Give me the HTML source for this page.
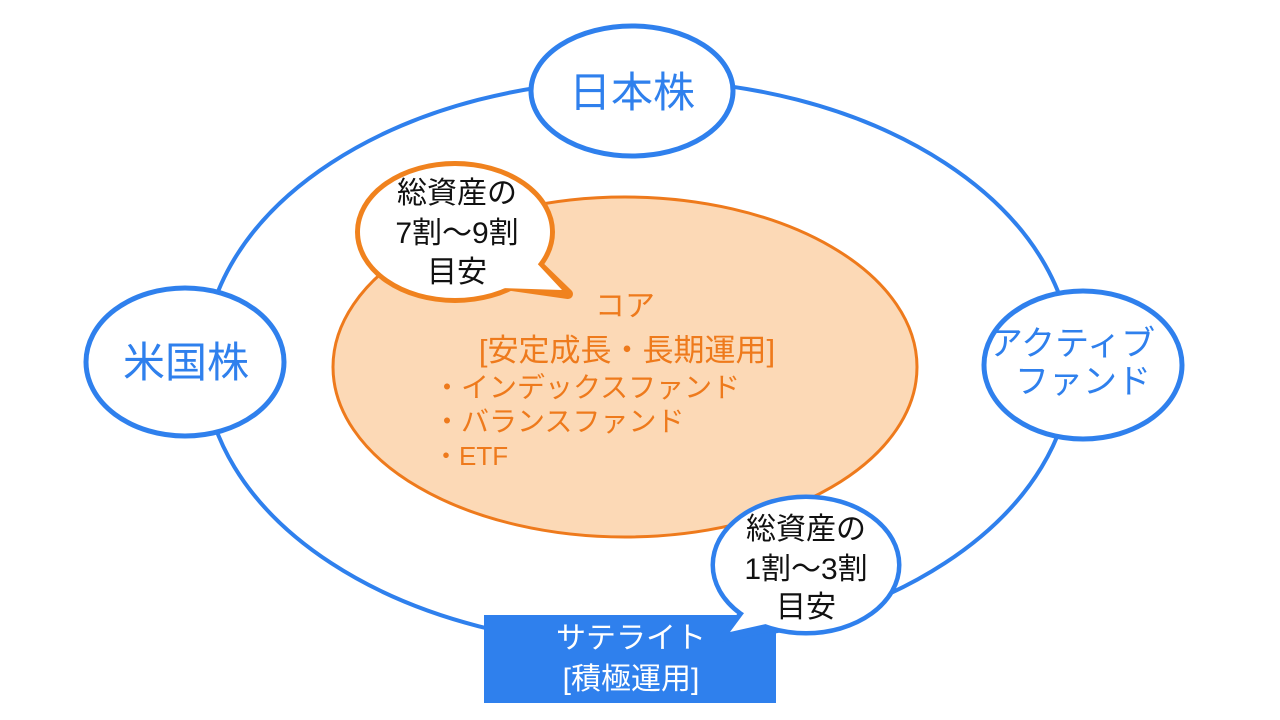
<!DOCTYPE html>
<html><head><meta charset="utf-8"><style>
body{margin:0;background:#fff;}
svg{display:block}
text{font-family:"Liberation Sans","Noto Sans CJK JP",sans-serif;}
</style></head><body>
<svg width="1280" height="720" viewBox="0 0 1280 720">
<ellipse cx="638" cy="363" rx="434" ry="283" fill="none" stroke="#2f80ed" stroke-width="4"/>
<ellipse cx="625" cy="367" rx="292" ry="170" fill="#fcd9b6" stroke="#ee7a1c" stroke-width="3"/>
<text x="625" y="316" font-size="30" fill="#ee7a1c" text-anchor="middle">コア</text>
<text x="627" y="361" font-size="31" fill="#ee7a1c" text-anchor="middle">[安定成長・長期運用]</text>
<text x="433" y="397" font-size="28" fill="#ee7a1c">・インデックスファンド</text>
<text x="433" y="431" font-size="28" fill="#ee7a1c">・バランスファンド</text>
<text x="433" y="465" font-size="26" fill="#ee7a1c">・ETF</text>

<ellipse cx="632" cy="91" rx="101" ry="65" fill="#fff" stroke="#2f80ed" stroke-width="5"/>
<text x="632" y="96" font-size="42" fill="#2f80ed" text-anchor="middle" dominant-baseline="middle">日本株</text>
<ellipse cx="185" cy="362" rx="99" ry="74" fill="#fff" stroke="#2f80ed" stroke-width="5"/>
<text x="186" y="366" font-size="42" fill="#2f80ed" text-anchor="middle" dominant-baseline="middle">米国株</text>
<ellipse cx="1083" cy="365" rx="99" ry="74" fill="#fff" stroke="#2f80ed" stroke-width="5"/>
<text x="1072" y="355" font-size="34" fill="#2f80ed" text-anchor="middle">アクティブ</text>
<text x="1083" y="393" font-size="34" fill="#2f80ed" text-anchor="middle">ファンド</text>

<!-- orange callout -->
<g stroke="#f0821e" stroke-width="10" stroke-linejoin="round">
<ellipse cx="455" cy="232" rx="95" ry="66" fill="#fff"/>
<polygon points="535,262 568,294 505,285" fill="#fff"/>
</g>
<ellipse cx="455" cy="232" rx="95" ry="66" fill="#fff"/>
<polygon points="532,258 562,290 500,288" fill="#fff"/>
<text x="457" y="203" font-size="30" fill="#111" text-anchor="middle">総資産の</text>
<text x="457" y="243" font-size="30" fill="#111" text-anchor="middle">7割～9割</text>
<text x="457" y="282" font-size="30" fill="#111" text-anchor="middle">目安</text>

<!-- satellite box -->
<rect x="484" y="615" width="292" height="88" fill="#2f80ed"/>
<text x="631" y="648" font-size="30" fill="#fff" text-anchor="middle">サテライト</text>
<text x="631" y="689" font-size="30" fill="#fff" text-anchor="middle">[積極運用]</text>

<!-- blue callout -->
<g stroke="#2f80ed" stroke-width="9" stroke-linejoin="round">
<ellipse cx="806" cy="565" rx="91" ry="66" fill="#fff"/>
<polygon points="748,608 724,637 772,627" fill="#fff"/>
</g>
<ellipse cx="806" cy="565" rx="91" ry="66" fill="#fff"/>
<polygon points="750,605 730,632 775,622" fill="#fff"/>
<text x="806" y="539" font-size="30" fill="#111" text-anchor="middle">総資産の</text>
<text x="806" y="579" font-size="30" fill="#111" text-anchor="middle">1割～3割</text>
<text x="806" y="617" font-size="30" fill="#111" text-anchor="middle">目安</text>
</svg>
</body></html>
